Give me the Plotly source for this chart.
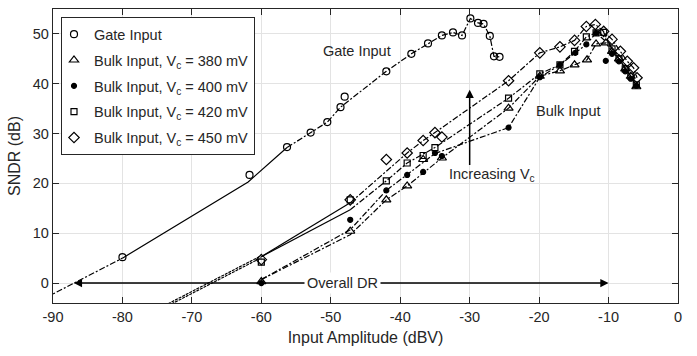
import plotly.graph_objects as go

# ---------------- data ----------------
# Gate input (markers)
gate_x = [-80, -61.7, -56.3, -52.9, -50.5, -48.6, -48.0, -42.0, -38.4, -36.0, -34.0, -32.4, -31.1, -29.9, -28.8, -28.0, -27.1, -26.5, -25.7]
gate_y = [5.2, 21.7, 27.3, 30.2, 32.3, 35.3, 37.4, 42.5, 46.0, 48.1, 49.7, 50.3, 49.7, 53.1, 52.2, 52.0, 49.6, 45.5, 45.4]
# Gate input lines
gate_ext_x = [-91, -80]
gate_ext_y = [-2.9, 5.0]
gate_solid_x = [-80, -61.9, -56.3]
gate_solid_y = [5.0, 20.3, 27.2]
gate_line_x = [-56.3, -52.9, -50.5, -48.6, -42.0, -38.4, -36.0, -34.0, -32.4, -31.1, -29.9, -28.8, -28.0, -27.1, -26.5, -25.7]
gate_line_y = [27.2, 30.2, 32.3, 35.3, 42.5, 46.0, 48.1, 49.7, 50.3, 49.7, 53.1, 52.2, 52.0, 49.6, 45.5, 45.4]

# Bulk input, Vc = 380 mV (triangles)
b380_x = [-60, -47.2, -42, -39, -36.7, -34, -24.4, -19.9, -17, -14.9, -13.1, -11.8, -10.4, -9.5, -8.5, -7.6, -6.8, -6]
b380_y = [0.3, 10.4, 16.7, 19.5, 24.8, 25.1, 35.1, 41.5, 42.6, 43.8, 44.8, 48.0, 48.2, 46.5, 45.0, 43.0, 41.5, 39.4]
b380_line_x = [-60, -47.2, -42, -39, -34, -24.4, -19.9, -17, -14.9, -13.1, -11.8, -10.4, -9.5, -8.5, -7.6, -6.8, -6]
b380_line_y = [0.7, 9.7, 16.7, 19.5, 25.1, 35.1, 41.5, 42.6, 43.8, 44.8, 48.0, 48.2, 46.5, 45.0, 43.0, 41.5, 39.4]

# Bulk input, Vc = 400 mV (filled dots)
b400_x = [-60, -47.2, -42, -39, -36.7, -35, -34, -24.4, -19.9, -17, -14.8, -13.2, -11.8, -10.4, -9.5, -8.5, -7.6, -6.8, -6]
b400_y = [0.0, 12.7, 18.6, 21.7, 22.3, 26.1, 25.5, 31.2, 41.3, 43.8, 46.2, 47.9, 50.2, 44.6, 46.0, 44.5, 42.5, 41.0, 39.6]
b400_line_x = [-60, -47.2, -42, -39, -35, -24.4, -19.9, -17, -14.8, -13.2, -11.8, -10, -9, -8, -7, -6]
b400_line_y = [0.7, 10.7, 18.6, 21.7, 26.0, 31.2, 41.3, 43.8, 46.2, 47.9, 50.2, 48.0, 46.0, 44.0, 42.0, 39.6]

# Bulk input, Vc = 420 mV (squares)
b420_x = [-60, -47.2, -42, -39, -36.7, -35, -24.4, -19.9, -17, -14.9, -13.2, -11.8, -10.7, -9.5, -8.5, -7.6, -6.8, -6]
b420_y = [4.2, 16.7, 20.5, 24.1, 25.6, 27.2, 37.1, 42.0, 43.8, 46.5, 49.4, 50.2, 50.3, 47.0, 45.0, 43.0, 41.5, 39.8]
b420_solid_x = [-60, -47.2]
b420_solid_y = [5.3, 14.7]
b420_line_x = [-47.2, -42, -39, -35, -24.4, -19.9, -17, -14.9, -13.2, -11.8, -10.7, -9.5, -8.5, -7.6, -6.8, -6]
b420_line_y = [14.7, 20.5, 24.1, 27.2, 37.1, 42.0, 43.8, 46.5, 49.4, 50.2, 50.3, 47.0, 45.0, 43.0, 41.5, 39.8]
b420_ext_x = [-76, -60]
b420_ext_y = [-6.4, 5.1]

# Bulk input, Vc = 450 mV (diamonds)
b450_x = [-60, -47.2, -42, -39, -36.7, -35, -34, -24.4, -19.9, -17, -14.9, -13.2, -11.9, -10.7, -9.5, -8.3, -7.3, -6.4, -5.9]
b450_y = [4.7, 16.7, 24.8, 26.1, 28.6, 30.2, 29.3, 40.6, 46.2, 47.4, 48.7, 51.5, 51.9, 50.5, 48.9, 46.5, 44.5, 43.2, 41.2]
b450_solid_x = [-60, -47.2]
b450_solid_y = [5.3, 16.1]
b450_line_x = [-47.2, -39, -36.7, -35, -24.4, -19.9, -17, -14.9, -13.2, -11.9, -10.7, -9.5, -8.3, -7.3, -6.4, -5.9]
b450_line_y = [16.1, 26.1, 28.6, 30.2, 40.6, 46.2, 47.4, 48.7, 51.5, 51.9, 50.5, 48.9, 46.5, 44.5, 43.2, 41.2]
b450_ext_x = [-76, -60]
b450_ext_y = [-6.0, 5.5]

x_ticks = [-90, -80, -70, -60, -50, -40, -30, -20, -10, 0]
y_ticks = [0, 10, 20, 30, 40, 50]

# ---------------- figure ----------------
FONT = "Liberation Sans, Arial, sans-serif"
DASHDOT = "6px,2px,2px,2px"
fig = go.Figure()


def add_line(xs, ys, dash):
    fig.add_trace(go.Scatter(x=xs, y=ys, mode="lines", showlegend=False, hoverinfo="skip",
                             line=dict(color="black", width=1.2, dash=dash)))


# lines
add_line(gate_ext_x, gate_ext_y, DASHDOT)
add_line(gate_solid_x, gate_solid_y, "solid")
add_line(gate_line_x, gate_line_y, DASHDOT)
add_line(b380_line_x, b380_line_y, DASHDOT)
add_line(b400_line_x, b400_line_y, DASHDOT)
add_line(b420_ext_x, b420_ext_y, "3px,1px")
add_line(b420_solid_x, b420_solid_y, "solid")
add_line(b420_line_x, b420_line_y, DASHDOT)
add_line(b450_ext_x, b450_ext_y, "3px,1px")
add_line(b450_solid_x, b450_solid_y, "solid")
add_line(b450_line_x, b450_line_y, DASHDOT)


def add_markers(xs, ys, name, symbol, size, group):
    fig.add_trace(go.Scatter(x=xs, y=ys, mode="markers", name=name, legendgroup=group,
                             marker=dict(symbol=symbol, size=size, color="black",
                                         line=dict(color="black", width=1.2))))


add_markers(gate_x, gate_y, "Gate Input", "circle-open", 7, "g1")
add_markers(b380_x, b380_y, "Bulk Input, V<sub>c</sub> = 380 mV", "triangle-up-open", 8, "g2")
add_markers(b400_x, b400_y, "Bulk Input, V<sub>c</sub> = 400 mV", "circle", 5, "g3")
add_markers(b420_x, b420_y, "Bulk Input, V<sub>c</sub> = 420 mV", "square-open", 6, "g4")
add_markers(b450_x, b450_y, "Bulk Input, V<sub>c</sub> = 450 mV", "diamond-open", 8, "g5")

annotations = [
    # Overall DR arrows
    dict(x=-87, y=0, ax=-48.3, ay=0, axref="x", ayref="y", xref="x", yref="y", text="",
         showarrow=True, arrowhead=2, arrowsize=1.1, arrowwidth=1.5, arrowcolor="black"),
    dict(x=-10, y=0, ax=-48.3, ay=0, axref="x", ayref="y", xref="x", yref="y", text="",
         showarrow=True, arrowhead=2, arrowsize=1.1, arrowwidth=1.5, arrowcolor="black"),
    dict(x=-48.3, y=0, xref="x", yref="y", text="Overall DR", showarrow=False,
         bgcolor="white", borderpad=2, font=dict(size=14.5, color="#262626")),
    # Increasing Vc arrow
    dict(x=-30, y=38.8, ax=-30, ay=23.4, axref="x", ayref="y", xref="x", yref="y", text="",
         showarrow=True, arrowhead=2, arrowsize=1.1, arrowwidth=1.5, arrowcolor="black"),
    dict(x=-33.3, y=21.7, xref="x", yref="y", text="Increasing V<sub>c</sub>", showarrow=False,
         xanchor="left", font=dict(size=14.5, color="#262626")),
    dict(x=-46.2, y=46.5, xref="x", yref="y", text="Gate Input", showarrow=False,
         font=dict(size=14.5, color="#262626")),
    dict(x=-15.8, y=34.5, xref="x", yref="y", text="Bulk Input", showarrow=False,
         font=dict(size=14.5, color="#262626")),
]

axis_common = dict(
    showgrid=True, gridcolor="#e3e3e3", gridwidth=1,
    showline=True, linecolor="#262626", linewidth=1.3, mirror="ticks",
    ticks="inside", ticklen=6, tickcolor="#262626", tickwidth=1.3,
    zeroline=False, tickfont=dict(size=14.5, color="#262626", family=FONT),
)

fig.update_layout(
    width=697, height=356,
    margin=dict(l=53, r=19, t=9, b=53),
    paper_bgcolor="white", plot_bgcolor="white",
    font=dict(family=FONT, size=14.5, color="#262626"),
    xaxis=dict(range=[-90, 0], tickvals=x_ticks, ticktext=[str(v) for v in x_ticks],
               title=dict(text="Input Amplitude (dBV)", font=dict(size=16), standoff=8),
               **axis_common),
    yaxis=dict(range=[-4, 55], tickvals=y_ticks, ticktext=[str(v) for v in y_ticks],
               title=dict(text="SNDR (dB)", font=dict(size=16), standoff=8),
               **axis_common),
    legend=dict(x=0.0128, y=0.972, xanchor="left", yanchor="top",
                bgcolor="white", bordercolor="#262626", borderwidth=1,
                font=dict(size=14.5, color="#262626", family=FONT),
                itemwidth=30, traceorder="grouped", tracegroupgap=4,
                indentation=-8),
    annotations=annotations,
    showlegend=True,
)

fig.write_html("out.html")
